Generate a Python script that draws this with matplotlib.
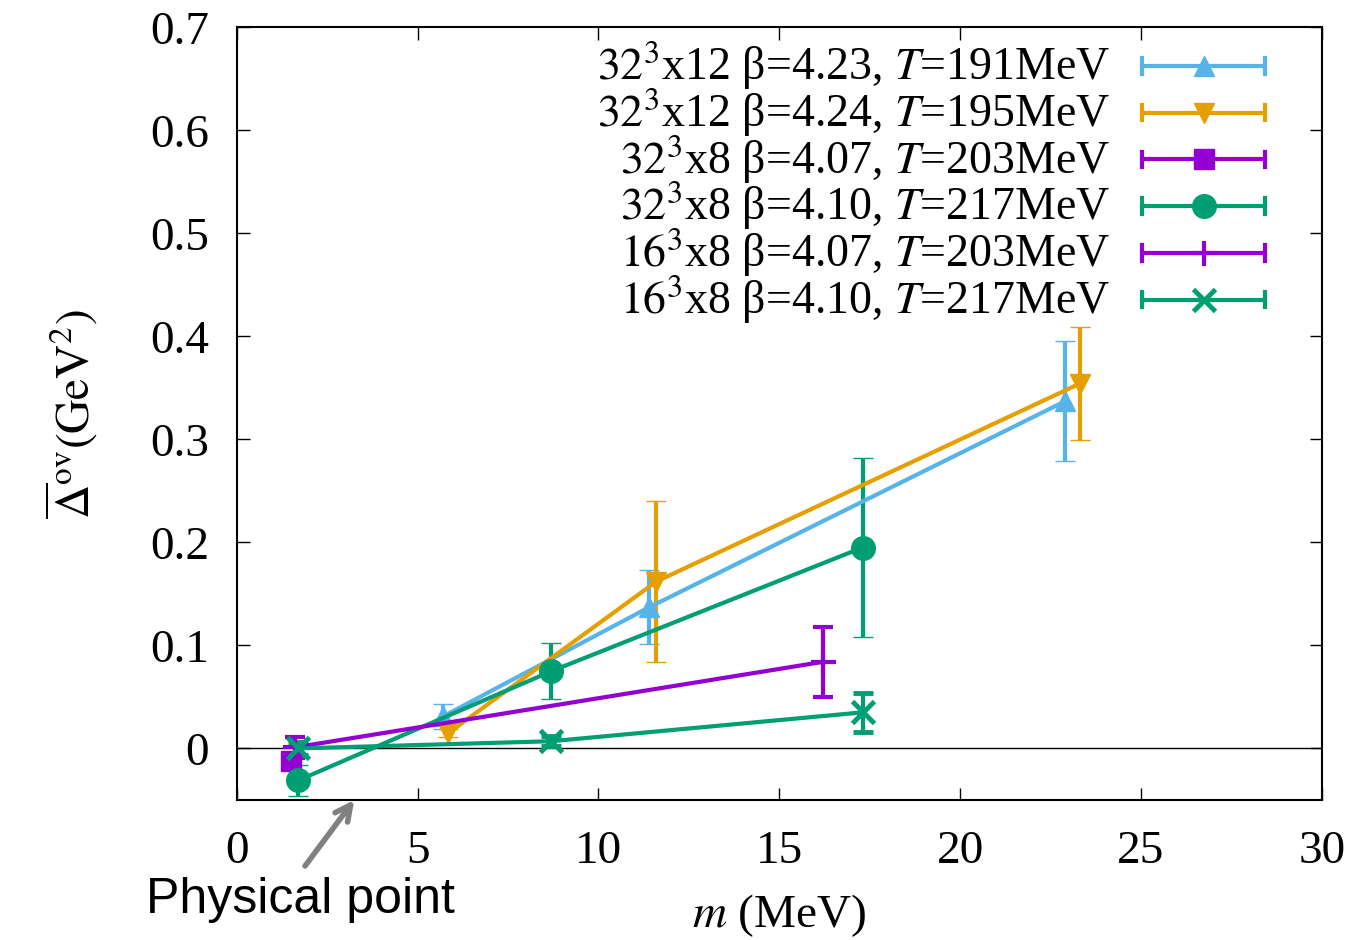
import matplotlib
matplotlib.use("Agg")
import matplotlib.pyplot as plt
import numpy as np

plt.rcParams['font.family'] = ['Liberation Serif', 'DejaVu Serif']
plt.rcParams['mathtext.fontset'] = 'stix'

# data: m (MeV), Delta (GeV^2), error
x_b = [5.7, 11.4, 22.9]
y_b = [0.031, 0.137, 0.337]
e_b = [0.012, 0.036, 0.058]

x_o = [5.85, 11.6, 23.3]
y_o = [0.015, 0.162, 0.354]
e_o = [0.004, 0.078, 0.055]

x_ps = [1.5]
y_ps = [-0.012]
e_ps = [0.004]

x_gc = [1.7, 8.7, 17.3]
y_gc = [-0.031, 0.075, 0.195]
e_gc = [0.015, 0.027, 0.087]

x_pp = [1.6, 16.2]
y_pp = [0.001, 0.084]
e_pp = [0.01, 0.034]

x_gx = [1.7, 8.7, 17.3]
y_gx = [0.0, 0.007, 0.035]
e_gx = [0.006, 0.005, 0.019]

labels = [r"$32^3$x12 β=4.23, $T$=191MeV",
          r"$32^3$x12 β=4.24, $T$=195MeV",
          r"$32^3$x8 β=4.07, $T$=203MeV",
          r"$32^3$x8 β=4.10, $T$=217MeV",
          r"$16^3$x8 β=4.07, $T$=203MeV",
          r"$16^3$x8 β=4.10, $T$=217MeV"]

blue = '#56b4e9'
orange = '#e69f00'
purple = '#9400d3'
green = '#009e73'

series = [(x_b, y_b, e_b, blue, '^', 15, 1),
          (x_o, y_o, e_o, orange, 'v', 15, 1),
          (x_ps, y_ps, e_ps, purple, 's', 15, 1),
          (x_gc, y_gc, e_gc, green, 'o', 17, 1),
          (x_pp, y_pp, e_pp, purple, '+', 18, 3),
          (x_gx, y_gx, e_gx, green, 'x', 16, 3.5)]

LW = 3.0
FS = 33

fig = plt.figure(figsize=(13.53, 9.40), dpi=100)
ax = fig.add_axes([0.175, 0.149, 0.802, 0.822])

ax.axhline(0, color='black', lw=1)

for xs, ys, es, c, m, ms, mew in series:
    ax.errorbar(xs, ys, yerr=es, color=c, marker=m, ms=ms, mew=mew,
                lw=LW, elinewidth=LW, capsize=7, capthick=LW)

ax.set_xlim(0, 30)
ax.set_ylim(-0.05, 0.7)
ax.set_xticks(np.arange(0, 31, 5))
ax.set_yticks(np.arange(0, 0.71, 0.1))
ax.set_yticklabels(['0', '0.1', '0.2', '0.3', '0.4', '0.5', '0.6', '0.7'])
ax.tick_params(direction='in', top=True, right=True, length=9, width=1,
               labelsize=34)
ax.tick_params(axis='x', pad=22)
ax.tick_params(axis='y', pad=20)
for s in ax.spines.values():
    s.set_linewidth(1.5)

ax.set_xlabel(r"$m$ (MeV)", fontsize=34, labelpad=14)
ax.set_ylabel(r"$\overline{\Delta}^{\rm ov}({\rm GeV}^2)$", fontsize=34,
              labelpad=36)

# gnuplot-style key, drawn by hand in axes coordinates
for i, (lab, (xs, ys, es, c, m, ms, mew)) in enumerate(zip(labels, series)):
    yy = 0.950 - i * 0.0605
    ax.text(0.805, yy, lab, transform=ax.transAxes, ha='right', va='center',
            fontsize=FS)
    ax.plot([0.834, 0.948], [yy, yy], transform=ax.transAxes, color=c,
            lw=LW, clip_on=False)
    for xe in (0.834, 0.948):
        ax.plot([xe, xe], [yy - 0.01, yy + 0.01], transform=ax.transAxes,
                color=c, lw=LW, clip_on=False)
    ax.plot([0.891], [yy], transform=ax.transAxes, color=c, marker=m,
            ms=ms, mew=mew, clip_on=False)

fig.text(300 / 1353, 40 / 940, "Physical point", ha='center', va='center',
         fontsize=36, family=['Liberation Sans', 'DejaVu Sans'])
ax.annotate("", xy=(3.25, -0.05), xycoords='data',
            xytext=(305, 74), textcoords='figure pixels',
            arrowprops=dict(arrowstyle='->', color='gray', lw=4,
                            mutation_scale=28, shrinkA=0, shrinkB=0),
            annotation_clip=False)

fig.savefig("out.png", dpi=100)
